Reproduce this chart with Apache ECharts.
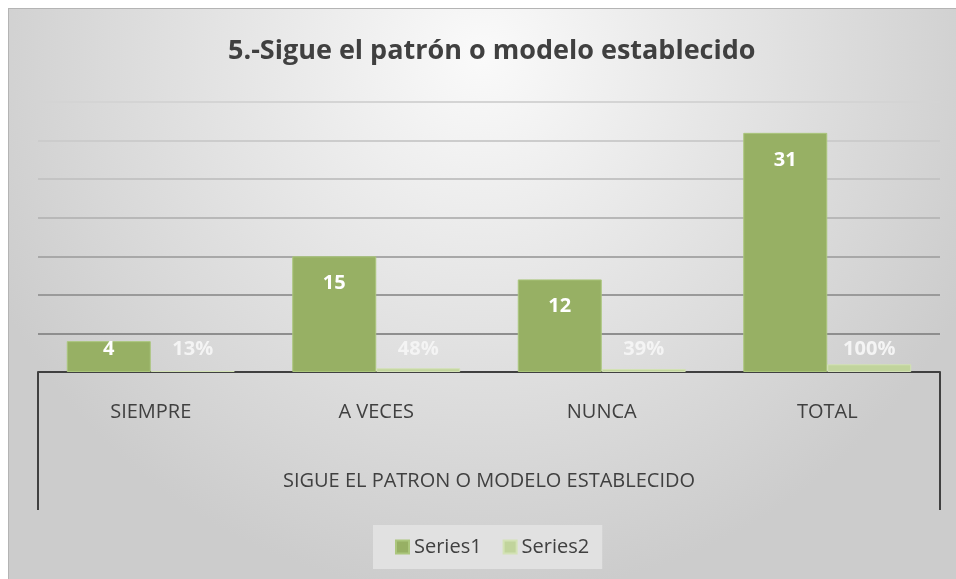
<!DOCTYPE html>
<html>
<head>
<meta charset="utf-8">
<script src="https://cdn.jsdelivr.net/npm/echarts@6/dist/echarts.min.js"></script>
<style>
  html, body { margin: 0; padding: 0; background: #ffffff; }
  #chart {
    position: absolute;
    left: 8px;
    top: 8px;
    width: 947px;
    height: 570px;
    border-top: 1px solid #b4b4b4;
    border-left: 1px solid #b4b4b4;
  }
</style>
</head>
<body>
<div id="chart"></div>
<script>
// datos del grafico
var titleText = '5.-Sigue el patrón o modelo establecido';
var categories = ['SIEMPRE', 'A VECES', 'NUNCA', 'TOTAL'];
var groupLabel = ['SIGUE EL PATRON O MODELO ESTABLECIDO'];
var seriesNames = ['Series1', 'Series2'];
var series1Values = [4, 15, 12, 31];
var series2Values = [0.13, 0.48, 0.39, 1.00];

var fontFamily = '"Open Sans", Lato, sans-serif';

// las barras cortas llevan la etiqueta apoyada en el eje, como en Excel
var series1Data = series1Values.map(function (v) {
  var item = { value: v };
  if (v < 6) {
    item.label = { position: 'insideBottom', distance: 13 };
  }
  return item;
});

var chart = echarts.init(document.getElementById('chart'));

var option = {
  backgroundColor: {
    type: 'radial',
    x: 0.5,
    y: 0.08,
    r: 0.95,
    colorStops: [
      { offset: 0, color: '#fafafa' },
      { offset: 1, color: '#cccccc' }
    ]
  },
  animation: false,
  title: {
    text: titleText,
    left: 214,
    top: 24,
    textStyle: {
      fontFamily: fontFamily,
      fontSize: 27,
      fontWeight: 'bold',
      color: '#404040'
    }
  },
  legend: {
    data: seriesNames,
    top: 516,
    left: 364,
    icon: 'rect',
    itemWidth: 13,
    itemHeight: 13,
    itemGap: 21,
    padding: [12, 13, 12, 22],
    backgroundColor: '#e1e1e1',
    textStyle: {
      fontFamily: fontFamily,
      fontSize: 20,
      color: '#404040'
    }
  },
  grid: {
    left: 29,
    right: 16,
    top: 93,
    bottom: 207,
    containLabel: false
  },
  xAxis: [
    {
      type: 'category',
      data: categories,
      axisLine: { show: true, lineStyle: { color: '#404040', width: 2 } },
      axisTick: { show: false },
      axisLabel: {
        margin: 30,
        fontFamily: fontFamily,
        fontSize: 20,
        color: '#404040'
      }
    },
    {
      type: 'category',
      data: groupLabel,
      position: 'bottom',
      axisLine: { show: false },
      axisTick: {
        show: true,
        length: 138,
        lineStyle: { color: '#404040', width: 2 }
      },
      axisLabel: {
        margin: 99,
        fontFamily: fontFamily,
        fontSize: 20,
        color: '#404040'
      }
    }
  ],
  yAxis: {
    type: 'value',
    min: 0,
    max: 35,
    interval: 5,
    axisLine: { show: false },
    axisTick: { show: false },
    axisLabel: { show: false },
    splitLine: {
      show: true,
      lineStyle: {
        width: 2,
        color: ['#404040', '#8e8e8e', '#9a9a9a', '#a8a8a8', '#b8b8b8', '#c4c4c4', '#cccccc', '#d4d4d4']
      }
    }
  },
  series: [
    {
      name: seriesNames[0],
      type: 'bar',
      xAxisIndex: 0,
      data: series1Data,
      barGap: '0%',
      barCategoryGap: '25.5%',
      itemStyle: {
        color: '#97b064',
        borderColor: '#abc67c',
        borderWidth: 1
      },
      label: {
        show: true,
        position: 'insideTop',
        distance: 17,
        fontFamily: fontFamily,
        fontSize: 20,
        fontWeight: 'bold',
        color: '#ffffff'
      }
    },
    {
      name: seriesNames[1],
      type: 'bar',
      xAxisIndex: 0,
      data: series2Values,
      barGap: '0%',
      barCategoryGap: '25.5%',
      itemStyle: {
        color: '#c1d49c',
        borderColor: '#d3e2b5',
        borderWidth: 1
      },
      label: {
        show: true,
        position: 'insideBottom',
        distance: 13,
        fontFamily: fontFamily,
        fontSize: 20,
        fontWeight: 'bold',
        color: '#f4f4f4',
        formatter: function (p) {
          return Math.round(p.value * 100) + '%';
        }
      }
    }
  ]
};

chart.setOption(option);
</script>
</body>
</html>
